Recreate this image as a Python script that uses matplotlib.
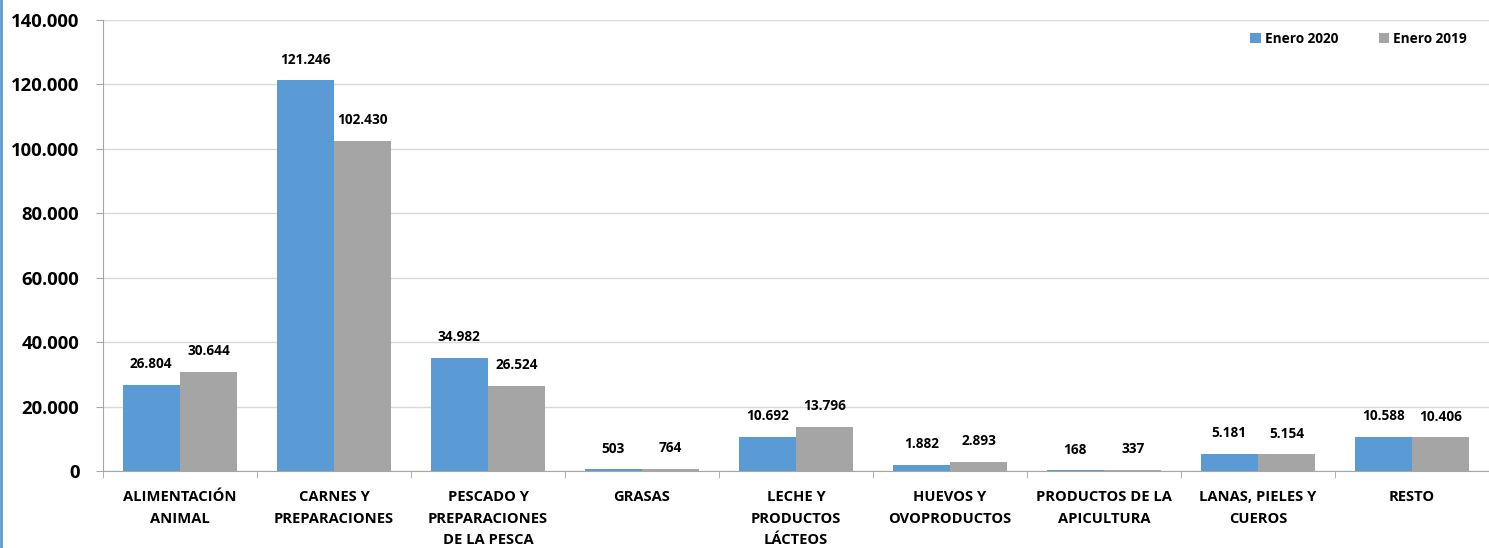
import matplotlib
matplotlib.use("Agg")
import matplotlib.pyplot as plt
from matplotlib.lines import Line2D
import numpy as np

categories = ["ALIMENTACIÓN\nANIMAL", "CARNES Y\nPREPARACIONES", "PESCADO Y\nPREPARACIONES\nDE LA PESCA",
              "GRASAS", "LECHE Y\nPRODUCTOS\nLÁCTEOS", "HUEVOS Y\nOVOPRODUCTOS",
              "PRODUCTOS DE LA\nAPICULTURA", "LANAS, PIELES Y\nCUEROS", "RESTO"]
enero_2020 = [26804, 121246, 34982, 503, 10692, 1882, 168, 5181, 10588]
enero_2019 = [30644, 102430, 26524, 764, 13796, 2893, 337, 5154, 10406]
series_names = ["Enero 2020", "Enero 2019"]
yticks = [0, 20000, 40000, 60000, 80000, 100000, 120000, 140000]

def fmt(v):
    return f"{v:,}".replace(",", ".")

plt.rcParams['font.family'] = ['Open Sans', 'DejaVu Sans']

fig = plt.figure(figsize=(14.89, 5.48), dpi=100)
ax = fig.add_axes([103/1489, 1-471/548, 1-103/1489, (471-20)/548])

x = np.arange(len(categories))
w = 0.373
c1, c2 = "#5B9BD5", "#A5A5A5"
b1 = ax.bar(x - w/2, enero_2020, w, color=c1, label=series_names[0], zorder=3)
b2 = ax.bar(x + w/2, enero_2019, w, color=c2, label=series_names[1], zorder=3)

for bars, vals in ((b1, enero_2020), (b2, enero_2019)):
    for rect, v in zip(bars, vals):
        ax.annotate(fmt(v), (rect.get_x() + rect.get_width()/2, v), xytext=(0, 15),
                    textcoords="offset points", ha="center", va="center",
                    fontsize=9.8, fontweight="bold", color="#000000")

ax.set_xlim(-0.5, len(categories) - 0.5)
ax.set_ylim(0, 140000)
ax.set_yticks(yticks)
ax.set_yticklabels([fmt(t) for t in yticks], fontsize=13.3, fontweight="bold")
ax.grid(axis="y", color="#D9D9D9", linewidth=1, zorder=0)
ax.set_xticks(x)
ax.set_xticklabels(categories, fontsize=10.6, fontweight="bold", linespacing=1.68)
ax.tick_params(axis="x", length=0, pad=14)
ax.set_xticks(np.arange(len(categories) + 1) - 0.5, minor=True)
ax.tick_params(axis="x", which="minor", length=5, color="#A6A6A6")
ax.tick_params(axis="y", length=5, color="#A6A6A6", pad=12)
for s in ("top", "right"):
    ax.spines[s].set_visible(False)
for s in ("left", "bottom"):
    ax.spines[s].set_color("#A6A6A6")

leg = ax.legend(loc="upper right", ncol=2, frameon=False, handlelength=0.75, handleheight=0.75,
                columnspacing=3.0, handletextpad=0.3, prop={"size": 9.8, "weight": "bold"},
                borderpad=0, borderaxespad=0, bbox_to_anchor=((1467-103)/1386, (471-32)/451))

fig.add_artist(Line2D([0.001, 0.001], [0, 1], transform=fig.transFigure, color="#5B9BD5", linewidth=2))
fig.savefig("out.png", dpi=100)
